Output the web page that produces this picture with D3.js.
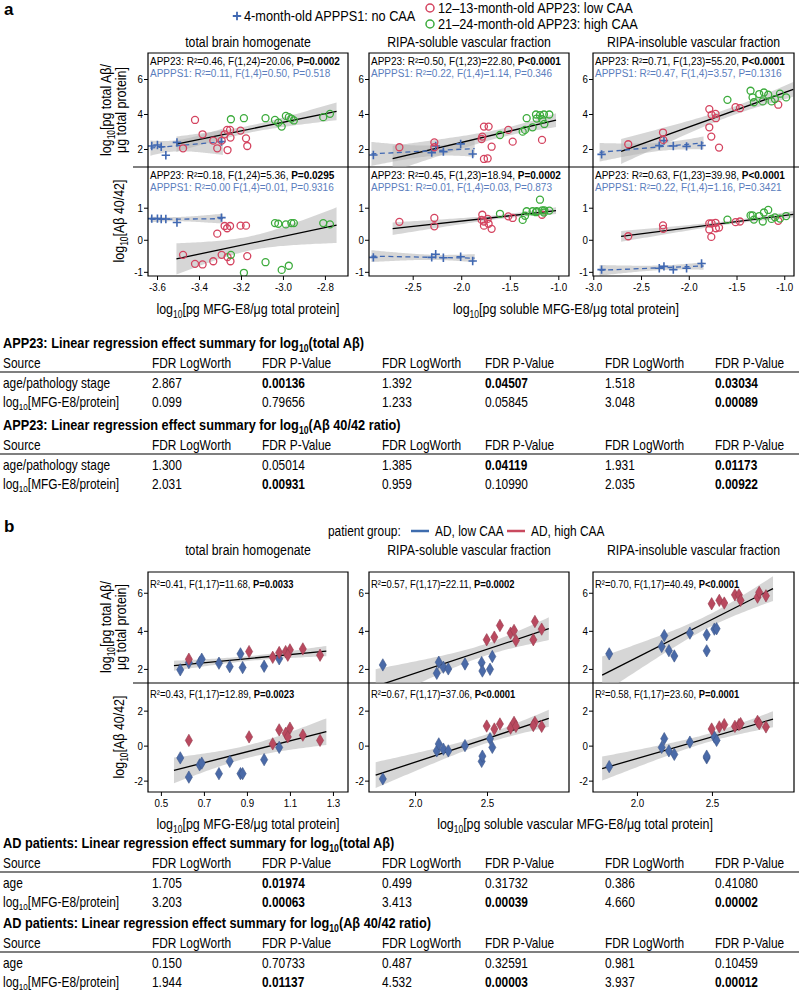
<!DOCTYPE html>
<html><head><meta charset="utf-8">
<script src="https://cdn.jsdelivr.net/npm/d3@7"></script>
<style>body{margin:0;background:#fff}svg{display:block}</style>
</head><body>
<script>
// ================= DATA =================
const fractions = ["total brain homogenate", "RIPA-soluble vascular fraction", "RIPA-insoluble vascular fraction"];

// Panel a: APPPS1 (4-month-old, no CAA)
const aAPPPS1X = [
  [-3.625, -3.598, -3.580, -3.558, -3.505, -3.293],
  [-2.905, -2.304, -2.263, -2.184, -2.006, -1.882],
  [-2.913, -2.309, -2.260, -2.162, -2.023, -1.866]];
const aAPPPS1Total = [
  [2.17, 2.23, 2.13, 1.64, 2.38, 2.42],
  [1.66, 1.79, 2.17, 1.85, 2.29, 1.71],
  [1.69, 2.19, 2.48, 2.17, 2.15, 2.20]];
const aAPPPS1Ratio = [
  [0.66, 0.66, 0.65, 0.65, 0.54, 0.69],
  [-0.55, -0.55, -0.45, -0.56, -0.53, -0.66],
  [-0.93, -0.89, -0.83, -0.93, -0.89, -0.74]];

// Panel a: APP23 12-13 months (low CAA)
const aLowX = [
  [-3.476, -3.419, -3.383, -3.332, -3.313, -3.292, -3.278, -3.266, -3.264, -3.252, -3.250, -3.202, -3.176, -3.170],
  [-2.637, -2.277, -2.277, -1.790, -1.783, -1.766, -1.766, -1.728, -1.718, -1.687, -1.515, -1.470, -1.168],
  [-2.634, -2.270, -2.267, -1.785, -1.785, -1.761, -1.764, -1.720, -1.716, -1.683, -1.510, -1.464, -1.063]];
const aLowTotal = [
  [2.04, 3.66, 2.84, 2.48, 2.04, 2.48, 2.84, 3.09, 1.94, 3.09, 2.65, 3.05, 2.61, 2.17],
  [2.10, 2.38, 2.10, 2.57, 2.71, 3.28, 1.43, 1.46, 3.28, 2.13, 3.09, 2.42, 2.52],
  [2.27, 2.94, 2.52, 4.28, 3.24, 3.95, 2.71, 4.01, 3.76, 2.08, 4.39, 4.33, 4.53]];
const aLowRatio = [
  [-0.47, -0.75, -0.77, -0.67, 0.19, -0.47, 0.43, 0.36, -0.54, 0.43, -0.67, 0.44, 0.44, -0.51],
  [0.56, 0.68, 0.42, 0.62, 0.78, 0.44, 0.57, 0.65, 0.50, 0.34, 0.73, 0.68, 0.78],
  [0.11, 0.45, 0.34, 0.51, 0.32, 0.51, 0.09, 0.53, 0.36, 0.38, 0.55, 0.57, 0.59]];

// Panel a: APP23 21-24 months (high CAA)
const aHighX = [
  [-3.248, -3.186, -3.083, -3.038, -3.022, -3.006, -2.986, -2.972, -2.960, -2.948, -2.808, -2.776],
  [-1.601, -1.367, -1.343, -1.326, -1.265, -1.230, -1.223, -1.189, -1.165, -1.148, -1.144, -1.093],
  [-1.595, -1.353, -1.332, -1.318, -1.262, -1.225, -1.213, -1.168, -1.133, -1.098, -1.045, -0.980]];
const aHighTotal = [
  [3.70, 3.76, 3.76, 3.66, 3.51, 3.28, 3.89, 3.82, 3.74, 3.63, 3.82, 4.01],
  [2.80, 2.99, 3.09, 3.76, 3.24, 3.97, 3.74, 3.93, 3.70, 3.97, 3.43, 3.97],
  [4.81, 5.33, 4.95, 4.67, 5.14, 4.72, 5.23, 5.10, 4.72, 4.85, 5.16, 4.95]];
const aHighRatio = [
  [-0.47, -1.03, -0.70, 0.52, 0.50, -0.94, 0.48, -0.81, 0.52, 0.52, 0.52, 0.48],
  [0.81, 0.62, 0.75, 0.89, 0.89, 0.86, 0.89, 1.25, 0.92, 0.85, 0.92, 0.91],
  [0.63, 0.76, 0.76, 0.63, 0.74, 0.57, 0.85, 0.93, 0.65, 0.70, 0.66, 0.74]];

const aStatsTotalAPP23 = ["APP23: R²=0.46, F(1,24)=20.06, **P=0.0002**", "APP23: R²=0.50, F(1,23)=22.80, **P<0.0001**", "APP23: R²=0.71, F(1,23)=55.20, **P<0.0001**"];
const aStatsTotalAPPPS1 = ["APPPS1: R²=0.11, F(1,4)=0.50, P=0.518", "APPPS1: R²=0.22, F(1,4)=1.14, P=0.346", "APPPS1: R²=0.47, F(1,4)=3.57, P=0.1316"];
const aStatsRatioAPP23 = ["APP23: R²=0.18, F(1,24)=5.36, **P=0.0295**", "APP23: R²=0.45, F(1,23)=18.94, **P=0.0002**", "APP23: R²=0.63, F(1,23)=39.98, **P<0.0001**"];
const aStatsRatioAPPPS1 = ["APPPS1: R²=0.00 F(1,4)=0.01, P=0.9316", "APPPS1: R²=0.01, F(1,4)=0.03, P=0.873", "APPPS1: R²=0.22, F(1,4)=1.16, P=0.3421"];

const aXTicks = [[-3.6, -3.4, -3.2, -3.0, -2.8], [-2.5, -2.0, -1.5, -1.0], [-3.0, -2.5, -2.0, -1.5, -1.0]];
const aYTicksTotal = [2, 4, 6];
const aYTicksRatio = [-1, 0, 1];

// Panel b: AD patients
const bLowX = [
  [0.59, 0.63, 0.68, 0.69, 0.77, 0.82, 0.87, 0.88, 0.98, 1.05],
  [1.776, 2.151, 2.165, 2.197, 2.231, 2.347, 2.463, 2.468, 2.521, 2.537],
  [1.815, 2.165, 2.182, 2.213, 2.249, 2.353, 2.465, 2.465, 2.516, 2.531]];
const bLowTotal = [
  [1.95, 2.33, 2.33, 2.51, 2.30, 2.12, 2.79, 2.07, 2.14, 2.53],
  [2.21, 1.77, 2.35, 2.09, 2.00, 2.26, 2.33, 1.89, 1.98, 2.65],
  [2.79, 3.18, 3.75, 2.96, 2.68, 3.88, 3.79, 2.95, 4.09, 4.11]];
const bLowRatio = [
  [-0.7, -1.8, -1.1, -1.0, -1.6, -0.9, -1.6, -1.6, -0.8, -0.1],
  [-1.9, -0.3, 0.1, -0.2, -0.3, 0.0, -0.9, -0.6, 0.4, -0.1],
  [-1.2, -0.1, 0.4, -0.3, -0.5, 0.2, -0.7, -0.6, 0.5, 0.3]];
const bHighX = [
  [0.63, 0.91, 1.02, 1.05, 1.08, 1.10, 1.09, 1.16, 1.24],
  [2.498, 2.551, 2.590, 2.664, 2.688, 2.701, 2.833, 2.822, 2.880],
  [2.498, 2.549, 2.582, 2.653, 2.680, 2.691, 2.804, 2.815, 2.860]];
const bHighTotal = [
  [2.51, 2.91, 2.61, 2.86, 2.91, 3.00, 2.72, 3.05, 2.72],
  [3.53, 3.67, 4.28, 3.88, 4.02, 3.49, 4.49, 3.53, 4.09],
  [5.42, 5.60, 5.46, 5.89, 5.89, 5.60, 5.77, 6.02, 5.84]];
const bHighRatio = [
  [0.3, 0.5, 0.1, 0.9, 0.7, 1.0, 0.5, 0.6, 0.3],
  [1.12, 0.95, 1.24, 1.0, 1.33, 1.1, 1.33, 1.15, 1.1],
  [0.95, 1.07, 1.2, 1.1, 1.2, 1.26, 1.39, 1.26, 1.07]];

const bStatsTotal = ["R²=0.41, F(1,17)=11.68, **P=0.0033**", "R²=0.57, F(1,17)=22.11, **P=0.0002**", "R²=0.70, F(1,17)=40.49, **P<0.0001**"];
const bStatsRatio = ["R²=0.43, F(1,17)=12.89, **P=0.0023**", "R²=0.67, F(1,17)=37.06, **P<0.0001**", "R²=0.58, F(1,17)=23.60, **P=0.0001**"];

const bXTicks = [[0.5, 0.7, 0.9, 1.1, 1.3], [2.0, 2.5], [2.0, 2.5]];
const bYTicksTotal = [2, 4, 6];
const bYTicksRatio = [-2, 0, 2];

// Tables
const tableHeader = ["Source", "FDR LogWorth", "FDR P-Value", "FDR LogWorth", "FDR P-Value", "FDR LogWorth", "FDR P-Value"];
const tableA1Title = "APP23: Linear regression effect summary for log_{10}(total Aβ)";
const tableA1Rows = [
  ["age/pathology stage", "2.867", "**0.00136**", "1.392", "**0.04507**", "1.518", "**0.03034**"],
  ["log_{10}[MFG-E8/protein]", "0.099", "0.79656", "1.233", "0.05845", "3.048", "**0.00089**"]];
const tableA2Title = "APP23: Linear regression effect summary for log_{10}(Aβ 40/42 ratio)";
const tableA2Rows = [
  ["age/pathology stage", "1.300", "0.05014", "1.385", "**0.04119**", "1.931", "**0.01173**"],
  ["log_{10}[MFG-E8/protein]", "2.031", "**0.00931**", "0.959", "0.10990", "2.035", "**0.00922**"]];
const tableB1Title = "AD patients: Linear regression effect summary for log_{10}(total Aβ)";
const tableB1Rows = [
  ["age", "1.705", "**0.01974**", "0.499", "0.31732", "0.386", "0.41080"],
  ["log_{10}[MFG-E8/protein]", "3.203", "**0.00063**", "3.413", "**0.00039**", "4.660", "**0.00002**"]];
const tableB2Title = "AD patients: Linear regression effect summary for log_{10}(Aβ 40/42 ratio)";
const tableB2Rows = [
  ["age", "0.150", "0.70733", "0.487", "0.32591", "0.981", "0.10459"],
  ["log_{10}[MFG-E8/protein]", "1.944", "**0.01137**", "4.532", "**0.00003**", "3.937", "**0.00012**"]];

// ================= LAYOUT / STYLE =================
const W = 799, H = 993;
const SANS = "'Liberation Sans',Arial,sans-serif";
const C_BLUE = "#4068b2", C_BLUE_TXT = "#5a7dbd", C_RED = "#d4435f", C_GREEN = "#3cab3c";
const C_BDIA = "#4a6aa8", C_RDIA = "#b9495f";
const colX = [[148, 348], [369, 569], [593, 794]];
const aXDom = [[-3.643, -2.690], [-2.950, -0.890], [-3.003, -0.898]];
const bXDom = [[0.44, 1.37], [1.68, 3.07], [1.707, 3.047]];

const svg = d3.select("body").append("svg").attr("width", W).attr("height", H)
  .attr("font-family", SANS);

function rich(t, str, fs) {
  const parts = str.split(/(_\{[^}]*\}|\*\*[^*]*\*\*)/).filter(s => s.length);
  let shift = 0;
  parts.forEach(p => {
    let ts;
    if (p.startsWith("_{")) {
      ts = t.append("tspan").text(p.slice(2, -1)).attr("font-size", fs * 0.68).attr("dy", fs * 0.22);
      shift = fs * 0.22;
      return;
    }
    if (p.startsWith("**")) ts = t.append("tspan").attr("font-weight", "bold").text(p.slice(2, -2));
    else ts = t.append("tspan").text(p);
    if (shift) { ts.attr("dy", -shift); shift = 0; }
  });
  return t;
}
// label with optional horizontal condensing (sx) to mimic a narrow typeface
function label(x, y, str, opts = {}) {
  const fs = opts.fs || 12, sx = opts.sx || 1;
  const g = svg.append("g").attr("transform",
    `translate(${x},${y})` + (opts.rotate ? " rotate(-90)" : "") + ` scale(${sx},1)`);
  const t = g.append("text").attr("x", 0).attr("y", 0).attr("dy", "0.35em")
    .attr("font-size", fs).attr("text-anchor", opts.anchor || "start").attr("fill", opts.fill || "#000");
  if (opts.bold) t.attr("font-weight", "bold");
  return rich(t, str, fs);
}

function t975(df) {
  const z = 1.959964;
  const g1 = (z ** 3 + z) / 4, g2 = (5 * z ** 5 + 16 * z ** 3 + 3 * z) / 96,
    g3 = (3 * z ** 7 + 19 * z ** 5 + 17 * z ** 3 - 15 * z) / 384;
  return z + g1 / df + g2 / df ** 2 + g3 / df ** 3;
}
function linfit(xs, ys) {
  const n = xs.length, mx = d3.mean(xs), my = d3.mean(ys);
  let sxx = 0, sxy = 0;
  xs.forEach((x, i) => { sxx += (x - mx) ** 2; sxy += (x - mx) * (ys[i] - my); });
  const b = sxy / sxx, a = my - b * mx;
  let sse = 0;
  xs.forEach((x, i) => { sse += (ys[i] - a - b * x) ** 2; });
  const s = Math.sqrt(sse / (n - 2)), t = t975(n - 2);
  return { f: x => a + b * x, ci: x => t * s * Math.sqrt(1 / n + (x - mx) ** 2 / sxx) };
}

let clipN = 0;
function styleTicks(sel) {
  sel.selectAll("text").attr("font-size", 11.5).attr("fill", "#000")
    .attr("transform", "scale(0.85,1)");
}
function makePanel(cx, ry, xDom, yDom, yTicks, xTicks, xFmt, isTop) {
  const [x0, x1] = cx, [y0, y1] = ry;
  const x = d3.scaleLinear().domain(xDom).range([x0, x1]);
  const y = d3.scaleLinear().domain(yDom).range([y1, y0]);
  const id = "clip" + (clipN++);
  svg.append("clipPath").attr("id", id).append("rect")
    .attr("x", x0).attr("y", y0).attr("width", x1 - x0).attr("height", y1 - y0);
  const g = svg.append("g");
  const inner = g.append("g").attr("clip-path", `url(#${id})`);
  const ya = g.append("g").attr("transform", `translate(${x0},0)`)
    .call(d3.axisLeft(y).tickValues(yTicks).tickSize(4).tickPadding(2).tickFormat(d => String(d)));
  ya.select(".domain").remove();
  styleTicks(ya);
  if (xTicks) {
    const xa = g.append("g").attr("transform", `translate(0,${y1})`)
      .call(d3.axisBottom(x).tickValues(xTicks).tickSize(4).tickPadding(3).tickFormat(xFmt));
    xa.select(".domain").remove();
    styleTicks(xa);
  }
  const fr = isTop ? `M${x0},${y1}V${y0}H${x1}V${y1}` : `M${x0},${y0}V${y1}H${x1}V${y0}`;
  g.append("path").attr("d", fr).attr("fill", "none").attr("stroke", "#000").attr("stroke-width", 1.2);
  return { g, inner, x, y, x0, y0 };
}

function fitLayer(p, xs, ys, padFrac) {
  const fit = linfit(xs, ys);
  const [lo, hi] = d3.extent(xs), pad = (hi - lo) * padFrac;
  const grid = d3.range(61).map(i => lo - pad + (hi - lo + 2 * pad) * i / 60);
  return {
    band() {
      p.inner.append("path").datum(grid)
        .attr("d", d3.area().x(d => p.x(d)).y0(d => p.y(fit.f(d) - fit.ci(d))).y1(d => p.y(fit.f(d) + fit.ci(d))))
        .attr("fill", "#b4b4b4").attr("fill-opacity", 0.55);
    },
    line(color, dash) {
      const l = p.inner.append("line")
        .attr("x1", p.x(grid[0])).attr("y1", p.y(fit.f(grid[0])))
        .attr("x2", p.x(grid[60])).attr("y2", p.y(fit.f(grid[60])))
        .attr("stroke", color).attr("stroke-width", 1.3);
      if (dash) l.attr("stroke-dasharray", dash);
    }
  };
}

const crossPath = "M-4.2,0H4.2M0,-4.2V4.2";
function crosses(p, xs, ys) {
  p.inner.append("g").selectAll("path").data(xs).join("path")
    .attr("transform", (d, i) => `translate(${p.x(d)},${p.y(ys[i])})`)
    .attr("d", crossPath).attr("stroke", C_BLUE).attr("stroke-width", 1.6).attr("fill", "none");
}
function circles(p, xs, ys, color) {
  p.inner.append("g").selectAll("circle").data(xs).join("circle")
    .attr("cx", d => p.x(d)).attr("cy", (d, i) => p.y(ys[i])).attr("r", 3.5)
    .attr("fill", "none").attr("stroke", color).attr("stroke-width", 1.3);
}
const diamond = d3.symbol(d3.symbolDiamond, 44)();
function diamonds(p, xs, ys, color) {
  p.inner.append("g").selectAll("path").data(xs).join("path")
    .attr("transform", (d, i) => `translate(${p.x(d)},${p.y(ys[i])})`)
    .attr("d", diamond).attr("fill", color).attr("stroke", d3.color(color).darker(0.6)).attr("stroke-width", 0.6);
}
function stat(p, dy, str, color, fs, sx) {
  const g = p.g.append("g").attr("transform", `translate(${p.x0 + 2},${p.y0 + dy}) scale(${sx},1)`);
  const t = g.append("text").attr("dy", "0.35em").attr("font-size", fs).attr("fill", color);
  rich(t, str, fs);
}

// ================= PANEL a =================
label(4, 9, "a", { fs: 17, bold: true });
svg.append("path").attr("d", crossPath).attr("transform", "translate(237,16)").attr("stroke", C_BLUE).attr("stroke-width", 1.8);
label(244, 16, "4-month-old APPPS1: no CAA", { fs: 15, sx: 0.85 });
svg.append("circle").attr("cx", 430).attr("cy", 8).attr("r", 4).attr("fill", "none").attr("stroke", C_RED).attr("stroke-width", 1.5);
label(438, 8, "12–13-month-old APP23: low CAA", { fs: 15, sx: 0.85 });
svg.append("circle").attr("cx", 430).attr("cy", 24).attr("r", 4).attr("fill", "none").attr("stroke", C_GREEN).attr("stroke-width", 1.5);
label(438, 24, "21–24-month-old APP23: high CAA", { fs: 15, sx: 0.85 });

const aTop = [53, 167], aBot = [167, 276];
svg.append("line").attr("x1", 133).attr("x2", 799).attr("y1", 167).attr("y2", 167).attr("stroke", "#000").attr("stroke-width", 1.2);

for (let c = 0; c < 3; c++) {
  label((colX[c][0] + colX[c][1]) / 2, 42, fractions[c], { fs: 15, sx: 0.82, anchor: "middle" });
  // top: total Abeta
  const pt = makePanel(colX[c], aTop, aXDom[c], [0.971, 7.486], aYTicksTotal, null, null, true);
  const fAPP = fitLayer(pt, aLowX[c].concat(aHighX[c]), aLowTotal[c].concat(aHighTotal[c]), 0.045);
  const fPS = fitLayer(pt, aAPPPS1X[c], aAPPPS1Total[c], 0.02);
  fAPP.band(); fPS.band();
  fAPP.line("#000"); fPS.line(C_BLUE, "5,3.5");
  crosses(pt, aAPPPS1X[c], aAPPPS1Total[c]);
  circles(pt, aLowX[c], aLowTotal[c], C_RED);
  circles(pt, aHighX[c], aHighTotal[c], C_GREEN);
  stat(pt, 8.5, aStatsTotalAPP23[c], "#000", 10, 1);
  stat(pt, 20.5, aStatsTotalAPPPS1[c], C_BLUE_TXT, 10, 1);

  // bottom: ratio
  const pb = makePanel(colX[c], aBot, aXDom[c], [-1.13, 2.27], aYTicksRatio, aXTicks[c], d => d.toFixed(1), false);
  const gAPP = fitLayer(pb, aLowX[c].concat(aHighX[c]), aLowRatio[c].concat(aHighRatio[c]), 0.045);
  const gPS = fitLayer(pb, aAPPPS1X[c], aAPPPS1Ratio[c], 0.02);
  gAPP.band(); gPS.band();
  gAPP.line("#000"); gPS.line(C_BLUE, "5,3.5");
  crosses(pb, aAPPPS1X[c], aAPPPS1Ratio[c]);
  circles(pb, aLowX[c], aLowRatio[c], C_RED);
  circles(pb, aHighX[c], aHighRatio[c], C_GREEN);
  stat(pb, 8, aStatsRatioAPP23[c], "#000", 10, 1);
  stat(pb, 20, aStatsRatioAPPPS1[c], C_BLUE_TXT, 10, 1);
}
label(106, 110, "log_{10}[pg total Aβ/", { fs: 15, sx: 0.83, anchor: "middle", rotate: true });
label(121, 110, "μg total protein]", { fs: 15, sx: 0.83, anchor: "middle", rotate: true });
label(119, 221, "log_{10}[Aβ 40/42]", { fs: 15, sx: 0.83, anchor: "middle", rotate: true });
label(248, 309, "log_{10}[pg MFG-E8/μg total protein]", { fs: 15, sx: 0.83, anchor: "middle" });
label(566, 309, "log_{10}[pg soluble MFG-E8/μg total protein]", { fs: 15, sx: 0.83, anchor: "middle" });

// ================= TABLES =================
const tableCols = [3, 152, 262, 382, 485, 605, 715];
function drawTable(y, title, rows) {
  label(3, y, title, { fs: 15, sx: 0.85, bold: true });
  tableHeader.forEach((h, i) => label(tableCols[i], y + 20, h, { fs: 14, sx: 0.85 }));
  svg.append("line").attr("x1", 0).attr("x2", 799).attr("y1", y + 29).attr("y2", y + 29).attr("stroke", "#000").attr("stroke-width", 1.1);
  rows.forEach((r, j) => r.forEach((v, i) => label(tableCols[i], y + 40 + 19 * j, v, { fs: 14, sx: 0.85 })));
}
drawTable(343, tableA1Title, tableA1Rows);
drawTable(425, tableA2Title, tableA2Rows);

// ================= PANEL b =================
label(4, 526, "b", { fs: 17, bold: true });
label(328, 531, "patient group:", { fs: 14, sx: 0.85 });
svg.append("line").attr("x1", 411).attr("x2", 429).attr("y1", 531).attr("y2", 531).attr("stroke", "#3e6cae").attr("stroke-width", 2.5);
label(435, 531, "AD, low CAA", { fs: 14, sx: 0.85 });
svg.append("line").attr("x1", 507).attr("x2", 525).attr("y1", 531).attr("y2", 531).attr("stroke", "#c94a5f").attr("stroke-width", 2.5);
label(531, 531, "AD, high CAA", { fs: 14, sx: 0.85 });

const bTop = [572, 683], bBot = [683, 792];
svg.append("line").attr("x1", 133).attr("x2", 799).attr("y1", 683).attr("y2", 683).attr("stroke", "#000").attr("stroke-width", 1.2);
for (let c = 0; c < 3; c++) {
  label((colX[c][0] + colX[c][1]) / 2, 550, fractions[c], { fs: 15, sx: 0.82, anchor: "middle" });
  const pt = makePanel(colX[c], bTop, bXDom[c], [1.26, 7.09], bYTicksTotal, null, null, true);
  const f = fitLayer(pt, bLowX[c].concat(bHighX[c]), bLowTotal[c].concat(bHighTotal[c]), 0.045);
  f.band(); f.line("#000");
  diamonds(pt, bLowX[c], bLowTotal[c], C_BDIA);
  diamonds(pt, bHighX[c], bHighTotal[c], C_RDIA);
  stat(pt, 11.5, bStatsTotal[c], "#000", 11.5, 0.82);

  const pb = makePanel(colX[c], bBot, bXDom[c], [-2.65, 3.58], bYTicksRatio, bXTicks[c], d => d.toFixed(1), false);
  const g2 = fitLayer(pb, bLowX[c].concat(bHighX[c]), bLowRatio[c].concat(bHighRatio[c]), 0.045);
  g2.band(); g2.line("#000");
  diamonds(pb, bLowX[c], bLowRatio[c], C_BDIA);
  diamonds(pb, bHighX[c], bHighRatio[c], C_RDIA);
  stat(pb, 10.5, bStatsRatio[c], "#000", 11.5, 0.82);
}
label(106, 627, "log_{10}[pg total Aβ/", { fs: 15, sx: 0.83, anchor: "middle", rotate: true });
label(121, 627, "μg total protein]", { fs: 15, sx: 0.83, anchor: "middle", rotate: true });
label(119, 737, "log_{10}[Aβ 40/42]", { fs: 15, sx: 0.83, anchor: "middle", rotate: true });
label(248, 824, "log_{10}[pg MFG-E8/μg total protein]", { fs: 15, sx: 0.83, anchor: "middle" });
label(575, 824, "log_{10}[pg soluble vascular MFG-E8/μg total protein]", { fs: 15, sx: 0.83, anchor: "middle" });

drawTable(843, tableB1Title, tableB1Rows);
drawTable(923, tableB2Title, tableB2Rows);
</script>
</body></html>
